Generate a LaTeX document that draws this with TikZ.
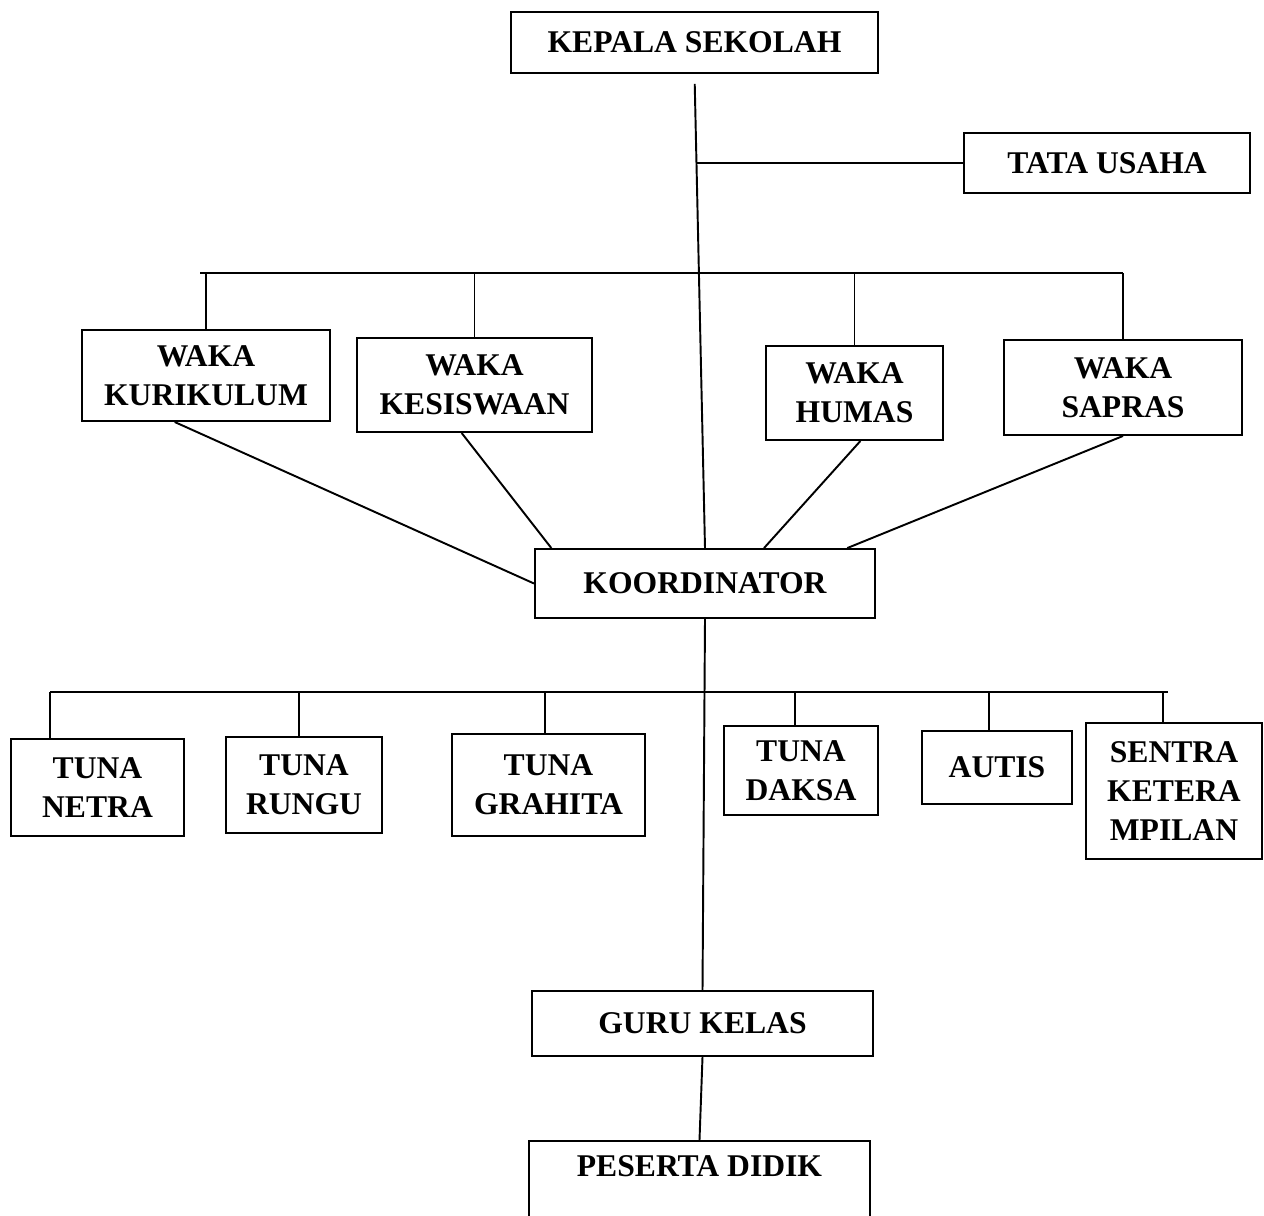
\documentclass[tikz,border=0pt]{standalone}
\usepackage{fontspec}
\setmainfont{Liberation Serif}
\usetikzlibrary{calc}

\begin{document}
\begin{tikzpicture}[x=0.02cm, y=-0.02cm, line width=1.1pt,
  kotak/.style={draw, align=center, inner sep=0pt,
    font=\fontsize{18}{22}\selectfont\bfseries},
  ukuran/.style 2 args={minimum width=#1*0.02cm, minimum height=#2*0.02cm}]
  \useasboundingbox (0,0) rectangle (1264,1215);

  % Pimpinan
  \node[kotak, ukuran={367}{61}] (kepsek) at (694.5,42.5) {KEPALA SEKOLAH};
  \node[kotak, ukuran={286}{60}] (tu) at (1107,163) {TATA USAHA};

  % Wakil kepala sekolah
  \node[kotak, ukuran={248}{91}] (kurikulum) at (206,375.5) {WAKA\\KURIKULUM};
  \node[kotak, ukuran={235}{94}] (kesiswaan) at (474.5,385) {WAKA\\KESISWAAN};
  \node[kotak, ukuran={177}{94}] (humas) at (854.5,393) {WAKA\\HUMAS};
  \node[kotak, ukuran={238}{95}] (sapras) at (1123,387.5) {WAKA\\SAPRAS};

  \node[kotak, ukuran={340}{69}] (koord) at (705,583.5) {KOORDINATOR};

  % Program kekhususan
  \node[kotak, ukuran={173}{97}] (netra) at (97.5,787.5) {TUNA\\NETRA};
  \node[kotak, ukuran={156}{96}] (rungu) at (304,785) {TUNA\\RUNGU};
  \node[kotak, ukuran={193}{102}] (grahita) at (548.5,785) {TUNA\\GRAHITA};
  \node[kotak, ukuran={154}{89}] (daksa) at (801,770.5) {TUNA\\DAKSA};
  \node[kotak, ukuran={150}{73}] (autis) at (997,767.5) {AUTIS};
  \node[kotak, ukuran={176}{136}] (sentra) at (1174,791) {SENTRA\\KETERA\\MPILAN};

  \node[kotak, ukuran={341}{65}] (guru) at (702.5,1023.5) {GURU KELAS};
  \node[kotak, minimum width=341*0.02cm, anchor=north,
    text height=0.72cm, text depth=2cm] (peserta) at (699.5,1140) {PESERTA DIDIK};

  % Garis komando
  \draw[shorten <=0.2cm] (kepsek.south) -- (koord.north);
  \coordinate (cabang) at ($(kepsek.south)!0.19!(koord.north)$);
  \draw (tu.west) -- (tu.west -| cabang);

  \coordinate (bus1) at (200,273);
  \draw (bus1) -- (bus1 -| sapras.north);
  \foreach \n in {kurikulum,kesiswaan,humas,sapras}
    \draw (\n.north) -- (\n.north |- bus1);

  % Garis koordinasi
  \draw (kurikulum.236) -- (koord.west);
  \draw (kesiswaan.255) -- (koord.167);
  \draw (humas.277) -- (koord.31);
  \draw (sapras.south) -- (koord.14);

  \draw (koord.south) -- (guru.north);
  \draw (guru.south) -- (peserta.north);

  \coordinate (bus2) at (50,692);
  \draw (bus2) -- (1168,692);
  \foreach \n/\x in {netra/50,rungu/299,grahita/545,daksa/795,autis/989,sentra/1163}{
    \coordinate (t\n) at (\x,692);
    \draw (t\n) -- (t\n |- \n.north);
  }
\end{tikzpicture}
\end{document}
